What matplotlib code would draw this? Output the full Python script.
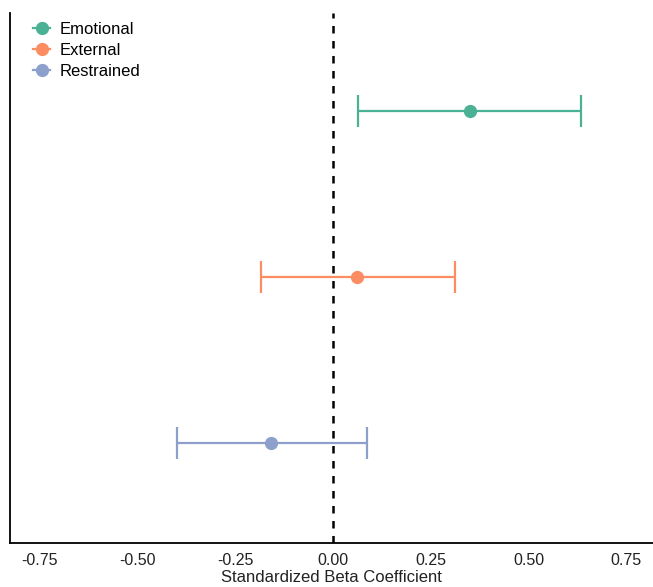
import matplotlib
matplotlib.use("Agg")
import matplotlib.pyplot as plt
from matplotlib.lines import Line2D

plt.rcParams["font.family"] = ["Liberation Sans", "DejaVu Sans"]

labels = ["Emotional", "External", "Restrained"]
betas = [0.35, 0.061, -0.159]
ci_low = [0.064, -0.184, -0.40]
ci_high = [0.634, 0.312, 0.087]
colors = ["#4BB195", "#FC8D62", "#8DA0CB"]
ypos = [3, 2, 1]
xticks = [-0.75, -0.50, -0.25, 0.00, 0.25, 0.50, 0.75]

fig = plt.figure(figsize=(6.53, 5.87), dpi=100)
ax = fig.add_axes([10 / 653, 1 - 543 / 587, 643 / 653, 530 / 587])

ax.axvline(0, color="black", linestyle=(0, (3, 3)), linewidth=1.8, zorder=1)

handles = []
for lab, b, lo, hi, c, y in zip(labels, betas, ci_low, ci_high, colors, ypos):
    ax.errorbar(b, y, xerr=[[b - lo], [hi - b]], fmt="o", color=c, ecolor=c,
                elinewidth=1.6, capsize=11.5, capthick=1.6, markersize=8.5, zorder=3)
    handles.append(Line2D([], [], color=c, marker="o", markersize=8.5, linewidth=1.6))

ax.set_xlim(-0.826, 0.818)
ax.set_ylim(0.4, 3.59)
ax.set_xticks(xticks)
ax.set_xticklabels([f"{t:.2f}" for t in xticks], fontsize=11.5, color="#222222")
ax.tick_params(axis="x", length=0, pad=7)
ax.set_yticks([])
ax.set_xlabel("Standardized Beta Coefficient", fontsize=12, labelpad=2, color="#222222")
for s in ["top", "right"]:
    ax.spines[s].set_visible(False)
ax.spines["left"].set_linewidth(1.3)
ax.spines["bottom"].set_linewidth(1.3)

leg = ax.legend(handles, labels, loc="upper left", bbox_to_anchor=(0.013, 1.012), frameon=False,
                fontsize=12, handlelength=1.0, handletextpad=0.6, labelspacing=0.36)

fig.savefig("out.png", dpi=100)
